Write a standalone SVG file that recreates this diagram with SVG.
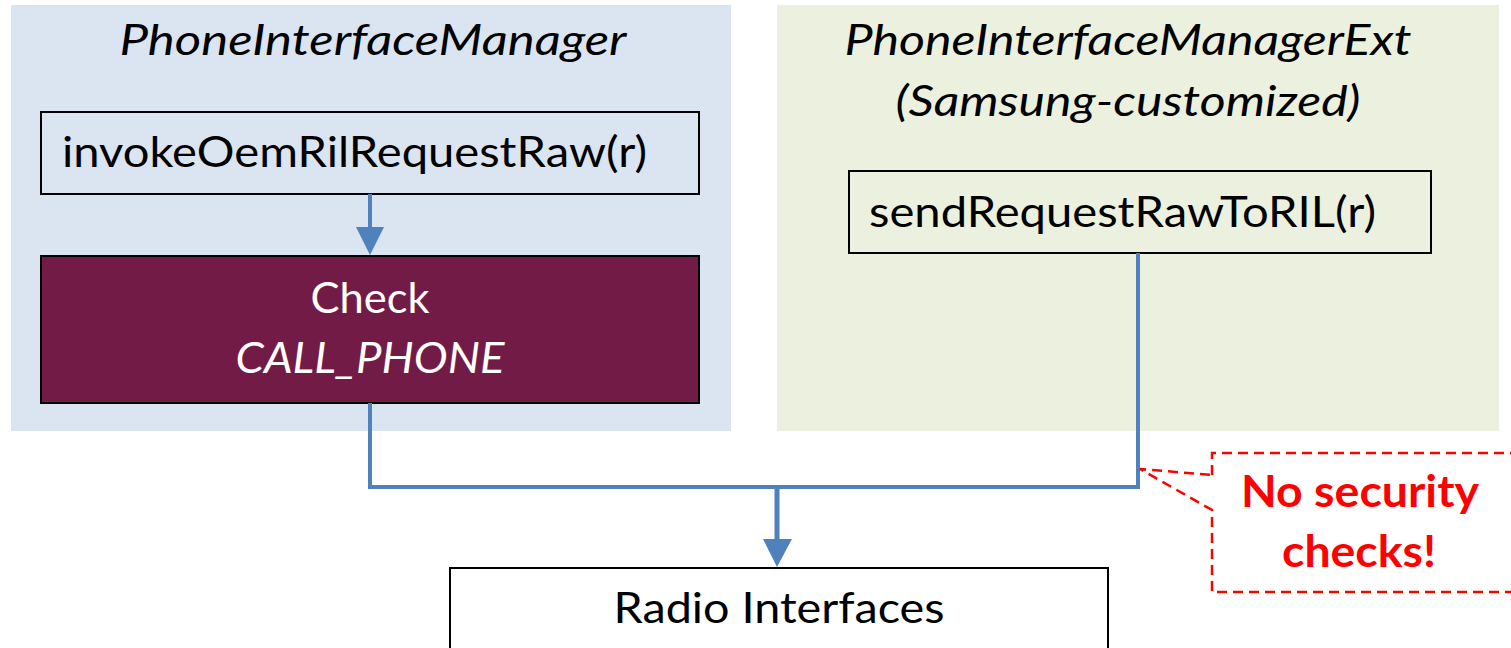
<svg xmlns="http://www.w3.org/2000/svg" width="1511" height="648" viewBox="0 0 1511 648">
  <style>
    .panel-std { fill: #DBE5F1; }
    .panel-ext { fill: #EBF1DE; }
    .box { fill: none; stroke: #000; stroke-width: 2; }
    .box-white { fill: #FFFFFF; stroke: #000; stroke-width: 2; }
    .box-check { fill: #731B47; stroke: #000; stroke-width: 2; }
    .lbl { font-family: Lato, "Open Sans", "Liberation Sans", sans-serif; font-size: 42px; fill: #000; }
    .it { font-style: italic; }
    .light { fill: #FFFFFF; }
    .warn { font-family: Lato, "Open Sans", "Liberation Sans", sans-serif; font-size: 44px; font-weight: bold; fill: #FF0000; }
    .wire { fill: none; stroke: #4F81BD; stroke-width: 4; }
    .head { fill: #4F81BD; }
    .callout { fill: none; stroke: #FF0000; stroke-width: 2.5; stroke-dasharray: 10 6; }
  </style>

  <!-- Stock AOSP service -->
  <g id="phone-interface-manager">
    <rect class="panel-std" x="11" y="5" width="720" height="426"/>
    <text class="lbl it" x="373" y="55" text-anchor="middle" textLength="507" lengthAdjust="spacingAndGlyphs">PhoneInterfaceManager</text>
  </g>

  <g id="invoke-oem-ril">
    <rect class="box" x="41" y="112" width="658" height="82"/>
    <text class="lbl" x="62" y="167" textLength="585" lengthAdjust="spacingAndGlyphs">invokeOemRilRequestRaw(r)</text>
  </g>

  <g id="check-call-phone">
    <rect class="box-check" x="41" y="256" width="658" height="147"/>
    <text class="lbl light" x="370" y="313" text-anchor="middle" textLength="119" lengthAdjust="spacingAndGlyphs">Check</text>
    <text class="lbl light it" x="370" y="373" text-anchor="middle" textLength="269" lengthAdjust="spacingAndGlyphs">CALL_PHONE</text>
  </g>

  <!-- Vendor extension service -->
  <g id="phone-interface-manager-ext">
    <rect class="panel-ext" x="777" y="5" width="722" height="426"/>
    <text class="lbl it" x="1128" y="55" text-anchor="middle" textLength="567" lengthAdjust="spacingAndGlyphs">PhoneInterfaceManagerExt</text>
    <text class="lbl it" x="1128" y="116" text-anchor="middle" textLength="465" lengthAdjust="spacingAndGlyphs">(Samsung-customized)</text>
  </g>

  <g id="send-request-raw">
    <rect class="box" x="849" y="171" width="582" height="82"/>
    <text class="lbl" x="869" y="227" textLength="507" lengthAdjust="spacingAndGlyphs">sendRequestRawToRIL(r)</text>
  </g>

  <g id="radio-interfaces">
    <rect class="box-white" x="450" y="568" width="658" height="100"/>
    <text class="lbl" x="779" y="623" text-anchor="middle" textLength="331" lengthAdjust="spacingAndGlyphs">Radio  Interfaces</text>
  </g>

  <!-- Call flow -->
  <g id="connectors">
    <line class="wire" x1="370" y1="194" x2="370" y2="228"/>
    <polygon class="head" points="356,227 384,227 370,255"/>
    <polyline class="wire" points="370,403 370,487 1138,487 1138,253"/>
    <line class="wire" x1="777" y1="487" x2="777" y2="540" style="stroke-width:5"/>
    <polygon class="head" points="763,539 792,539 777,567"/>
  </g>

  <!-- Warning callout -->
  <g id="no-security-callout">
    <path class="callout" d="M1212,475 L1212,453 L1515,453 M1515,592 L1212,592 L1212,510 L1140,469 L1212,475"/>
    <text class="warn" x="1360" y="507" text-anchor="middle" textLength="238" lengthAdjust="spacingAndGlyphs">No security</text>
    <text class="warn" x="1359" y="567" text-anchor="middle" textLength="154" lengthAdjust="spacingAndGlyphs">checks!</text>
  </g>
</svg>
